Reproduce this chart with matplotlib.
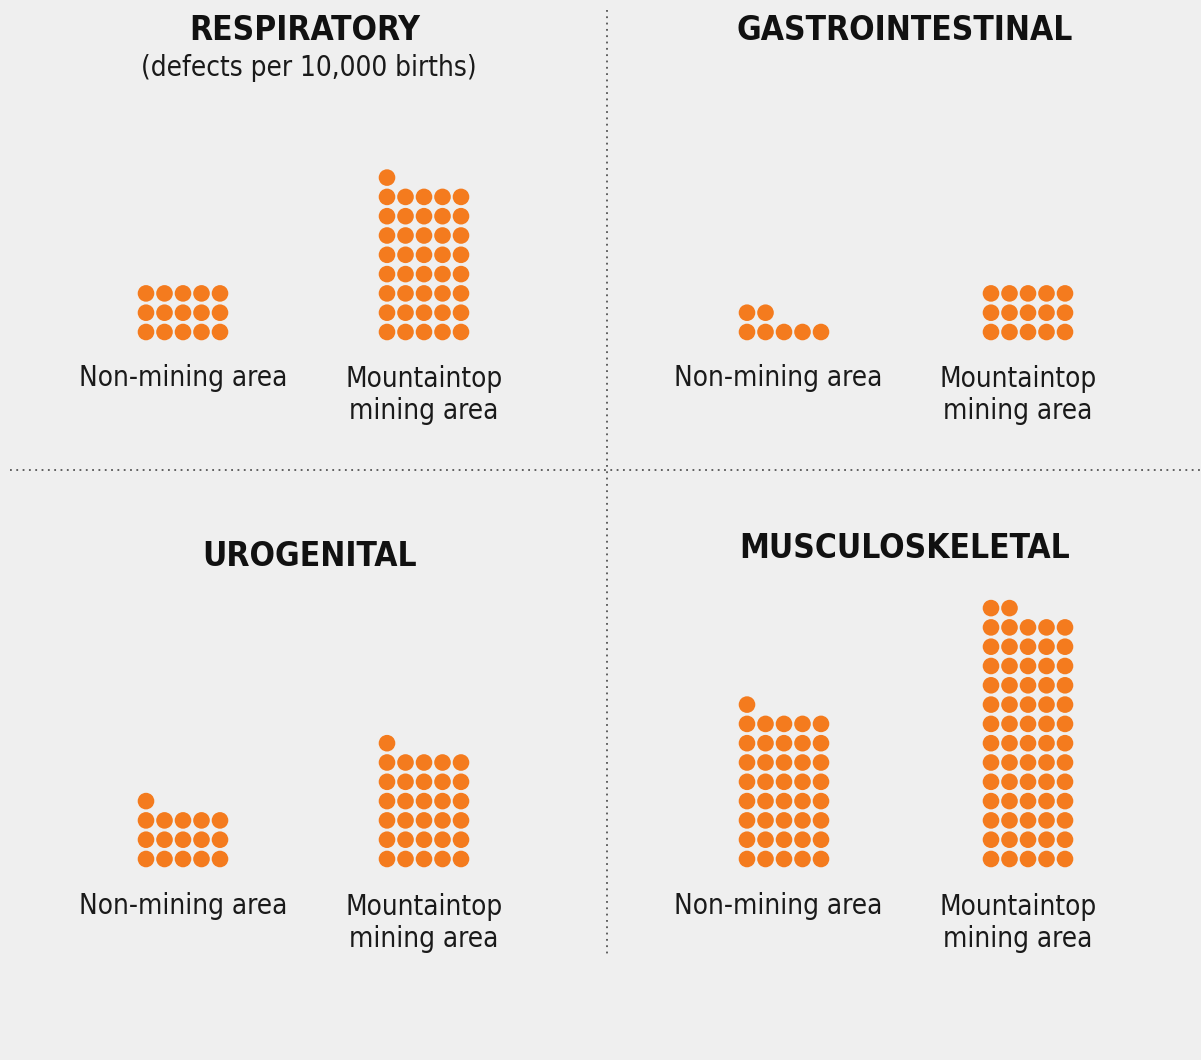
import matplotlib.pyplot as plt
from matplotlib.patches import Circle

# defects per 10,000 births, one dot per defect
panels = ['RESPIRATORY', 'GASTROINTESTINAL', 'UROGENITAL', 'MUSCULOSKELETAL']
non_mining = [15, 7, 16, 41]
mountaintop = [41, 15, 31, 67]
area_labels = ['Non-mining area', 'Mountaintop\nmining area']
subtitle = '(defects per 10,000 births)'

ORANGE = '#f47b1e'
BG = '#efefef'
PER_ROW = 5
DX, DY, R = 18.5, 19.3, 8.3

# layout in pixel coords: (title x, title y, baseline, group centres, label centres)
layout = [
    (305, 30, 332, (183, 424), (183, 424), 378),
    (905, 30, 332, (784, 1028), (778, 1018), 378),
    (310, 557, 859, (183, 424), (183, 424), 906),
    (905, 549, 859, (784, 1028), (778, 1018), 906),
]

fig = plt.figure(figsize=(12.01, 10.60), dpi=100, facecolor=BG)
ax = fig.add_axes([0, 0, 1, 1])
ax.set_xlim(0, 1201)
ax.set_ylim(1060, 0)
ax.set_facecolor(BG)
ax.axis('off')


def dot_stack(ax, n, cx, base):
    left = cx - DX * (PER_ROW - 1) / 2
    for i in range(n):
        row, col = divmod(i, PER_ROW)
        ax.add_patch(Circle((left + col * DX, base - row * DY), R,
                            color=ORANGE, lw=0))


label_font = dict(family='DejaVu Sans', stretch='condensed', fontsize=20,
                  color='#1a1a1a', ha='center', va='center',
                  linespacing=1.2)

for k, name in enumerate(panels):
    tx, ty, base, centres, lab_x, lab_y = layout[k]
    ax.text(tx, ty, name, family='DejaVu Sans', stretch='condensed',
            weight='bold', fontsize=24, color='#111111',
            ha='center', va='center')
    if k == 0:
        ax.text(309, 68, subtitle, fontsize=20, color='#1a1a1a',
                ha='center', va='center', family='DejaVu Sans',
                stretch='condensed')
    for n, cx in zip((non_mining[k], mountaintop[k]), centres):
        dot_stack(ax, n, cx, base)
    ax.text(lab_x[0], lab_y, area_labels[0], **label_font)
    ax.text(lab_x[1], lab_y + 17, area_labels[1], **label_font)

# dotted dividers
ax.plot([607, 607], [10, 955], color='#555555', lw=1.3,
        linestyle=(0, (1, 2.5)))
ax.plot([10, 1201], [470, 470], color='#555555', lw=1.3,
        linestyle=(0, (1, 2.5)))

fig.savefig('out.png', dpi=100, facecolor=BG)
